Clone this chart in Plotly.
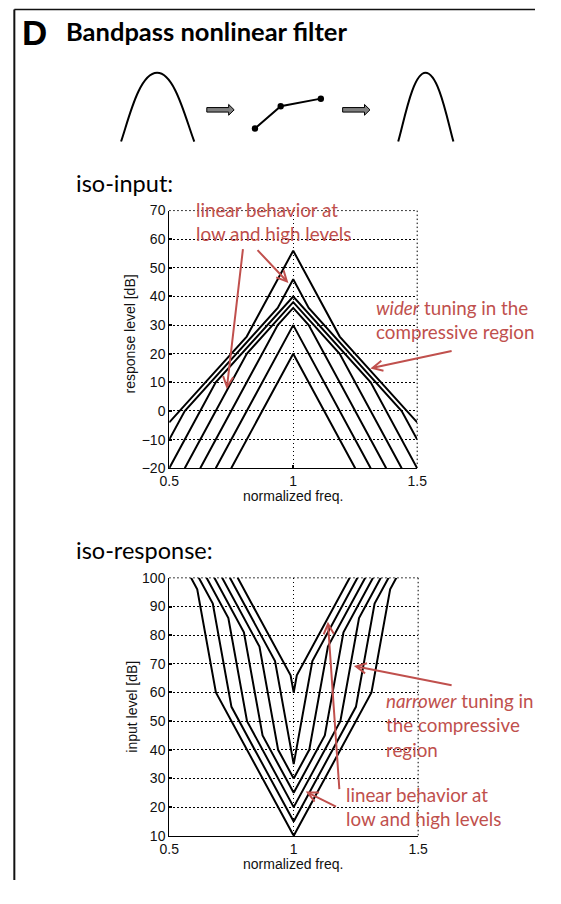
import plotly.graph_objects as go

# The page keeps the browser's default 8px body margin, so the figure is
# sized to fill the window exactly inside it; layout positions below are
# given in window pixels and converted with OFF.
PAGE_W, PAGE_H = 561, 904
OFF = 8
W, H = PAGE_W - 2 * OFF, PAGE_H - 2 * OFF

# ---------------- data ----------------
# iso-input: response level [dB] vs normalized frequency, one curve per input level
iso_input_levels = [20, 30, 40, 50, 60, 70, 80]
iso_input_freq = [
    [0.75, 1.0, 1.25],
    [0.6875, 1.0, 1.3125],
    [0.625, 0.9375, 1.0, 1.0625, 1.375],
    [0.5625, 0.8125, 1.0, 1.1875, 1.4375],
    [0.5, 0.6875, 1.0, 1.3125, 1.5],
    [0.5, 0.5625, 0.9375, 1.0, 1.0625, 1.4375, 1.5],
    [0.5, 0.8125, 1.0, 1.1875, 1.5],
]
iso_input_resp = [
    [-20, 20, -20],
    [-20, 30, -20],
    [-20, 30, 36, 30, -20],
    [-20, 20, 38, 20, -20],
    [-20, 10, 40, 10, -20],
    [-10, 0, 36, 46, 36, 0, -10],
    [-4, 26, 56, 26, -4],
]

# iso-response: input level [dB] vs normalized frequency, one curve per response level
iso_resp_levels = [10, 15, 20, 25, 30, 35, 40]
iso_resp_freq = [
    [0.5875, 0.6125, 0.6875, 1.0, 1.3125, 1.3875, 1.4125],
    [0.61875, 0.675, 0.75, 1.0, 1.25, 1.325, 1.38125],
    [0.65, 0.7375, 0.8125, 1.0, 1.1875, 1.2625, 1.35],
    [0.68125, 0.8, 0.875, 1.0, 1.125, 1.2, 1.31875],
    [0.7125, 0.8625, 0.9375, 1.0, 1.0625, 1.1375, 1.2875],
    [0.74375, 0.925, 1.0, 1.075, 1.25625],
    [0.775, 0.9875, 1.0, 1.0125, 1.225],
]
iso_resp_input = [
    [100, 96, 60, 10, 60, 96, 100],
    [100, 91, 55, 15, 55, 91, 100],
    [100, 86, 50, 20, 50, 86, 100],
    [100, 81, 45, 25, 45, 81, 100],
    [100, 76, 40, 30, 40, 76, 100],
    [100, 71, 35, 71, 100],
    [100, 66, 60, 66, 100],
]

freq_ticks = [0.5, 1, 1.5]
resp_ticks = list(range(-20, 71, 10))
input_ticks = list(range(10, 101, 10))

# ---------------- styling ----------------
RED = "#C0504D"
SANS = "Liberation Sans, Arial, sans-serif"
TICK_FONT = dict(family=SANS, size=14, color="#111")
LABEL_FONT = dict(family=SANS, size=14, color="#111")
CAL = "Lato, 'Open Sans', sans-serif"
DOT = "1.5px,2.5px"


def dom_x(p):
    return (p - OFF) / W


def dom_y(p):
    return 1 - (p - OFF) / H


fig = go.Figure()

for f, r in zip(iso_input_freq, iso_input_resp):
    fig.add_trace(go.Scatter(x=f, y=r, mode="lines", xaxis="x", yaxis="y",
                             line=dict(color="black", width=2), hoverinfo="skip",
                             showlegend=False))

for f, r in zip(iso_resp_freq, iso_resp_input):
    fig.add_trace(go.Scatter(x=f, y=r, mode="lines", xaxis="x2", yaxis="y2",
                             line=dict(color="black", width=2), hoverinfo="skip",
                             showlegend=False))

# empty trace holding the full-page pixel overlay axes
fig.add_trace(go.Scatter(x=[], y=[], xaxis="x3", yaxis="y3", showlegend=False))

axis_common = dict(
    showline=True, linecolor="black", linewidth=1, mirror=False,
    ticks="inside", ticklen=3, tickwidth=1.5, tickcolor="black",
    showgrid=True, gridcolor="black", gridwidth=1, griddash=DOT,
    zeroline=False, tickfont=TICK_FONT, fixedrange=True,
)

top_x = (173.3, 430.7)
top_y = (214.3, 476.7)
bot_x = (173.3, 431.7)
bot_y = (588.3, 851.0)

fig.update_layout(
    width=W, height=H, autosize=False,
    margin=dict(l=0, r=0, t=0, b=0),
    paper_bgcolor="white", plot_bgcolor="rgba(0,0,0,0)",
    xaxis=dict(domain=[dom_x(top_x[0]), dom_x(top_x[1])], range=[0.5, 1.5],
               tickvals=freq_ticks, anchor="y", **axis_common),
    yaxis=dict(domain=[dom_y(top_y[1]), dom_y(top_y[0])], range=[-20, 70],
               tickvals=resp_ticks, anchor="x", **axis_common),
    xaxis2=dict(domain=[dom_x(bot_x[0]), dom_x(bot_x[1])], range=[0.5, 1.5],
                tickvals=freq_ticks, anchor="y2", **axis_common),
    yaxis2=dict(domain=[dom_y(bot_y[1]), dom_y(bot_y[0])], range=[10, 100],
                tickvals=input_ticks, anchor="x2", **axis_common),
    xaxis3=dict(domain=[0, 1], range=[OFF, OFF + W], visible=False, anchor="y3",
                fixedrange=True),
    yaxis3=dict(domain=[0, 1], range=[OFF + H, OFF], visible=False, anchor="x3",
                fixedrange=True),
)

shapes = []
P = dict(xref="x3", yref="y3")

# panel frame (top and left edges)
shapes.append(dict(type="line", x0=12.5, x1=OFF + W, y0=9.5, y1=9.5,
                   line=dict(color="#111", width=1.6), **P))
shapes.append(dict(type="line", x0=12.5, x1=12.5, y0=9.5, y1=OFF + H,
                   line=dict(color="#111", width=2), **P))

# open right / top edges of each axes box as dotted lines
for (x0, x1), (y0, y1) in [(top_x, top_y), (bot_x, bot_y)]:
    shapes.append(dict(type="line", x0=x0, x1=x1, y0=y0, y1=y0,
                       line=dict(color="black", width=1, dash=DOT), **P))
    shapes.append(dict(type="line", x0=x1, x1=x1, y0=y0, y1=y1,
                       line=dict(color="black", width=1, dash=DOT), **P))

# schematic: filter -> compressive nonlinearity -> filter
shapes.append(dict(type="path",
                   path="M123.3,144 C131,122 142,74 160.7,74 C179,74 190,120 199.3,144",
                   line=dict(color="black", width=2), **P))
shapes.append(dict(type="path",
                   path="M411,144 C417,124 426,74 439.3,74 C453,74 462,122 468.3,144",
                   line=dict(color="black", width=2), **P))
for xs in (212.3, 353.3):
    body_end = xs + 22.7
    tip = xs + 28.4
    shapes.append(dict(type="path",
                       path=(f"M{xs},109.4 L{body_end},109.4 L{body_end},106.2 L{tip},111.7 "
                             f"L{body_end},117.2 L{body_end},114 L{xs},114 Z"),
                       fillcolor="#7f7f7f", line=dict(color="black", width=1), **P))
shapes.append(dict(type="path", path="M262.3,130.7 L289,108 L330.7,100.3",
                   line=dict(color="black", width=2), **P))
for cx, cy in [(262.3, 130.7), (289, 108), (330.7, 100.3)]:
    shapes.append(dict(type="circle", x0=cx - 3.3, x1=cx + 3.3, y0=cy - 3.3, y1=cy + 3.3,
                       fillcolor="black", line=dict(color="black", width=0), **P))

fig.update_layout(shapes=shapes)

ann = []


def text(x, y, s, font, xanchor="left", yanchor="middle", angle=0, align="left"):
    ann.append(dict(x=x, y=y, xref="x3", yref="y3", text=s, showarrow=False,
                    xanchor=xanchor, yanchor=yanchor, textangle=angle, align=align,
                    font=font))


def arrow(x_tail, y_tail, x_tip, y_tip):
    ann.append(dict(x=x_tip, y=y_tip, ax=x_tail, ay=y_tail, xref="x3", yref="y3",
                    axref="x3", ayref="y3", text="", showarrow=True,
                    arrowhead=5, arrowsize=1, arrowwidth=2, arrowcolor=RED))


# panel heading
text(18, 33, "<b>D</b>", dict(family=SANS, size=35, color="black"))
text(64, 31, "<b>Bandpass nonlinear filter</b>", dict(family=CAL, size=25.5, color="black"))

text(74, 186, "iso-input:", dict(family=CAL, size=23.5, color="black"))
text(74, 560, "iso-response:", dict(family=CAL, size=23.5, color="black"))

# axis titles
text(133, 340, "response level [dB]", LABEL_FONT, xanchor="center", angle=-90, align="center")
text(302, 505, "normalized freq.", LABEL_FONT, xanchor="center", align="center")
text(134.5, 719.6, "input level [dB]", LABEL_FONT, xanchor="center", angle=-90, align="center")
text(302, 880, "normalized freq.", LABEL_FONT, xanchor="center", align="center")

RFONT = dict(family=CAL, size=18.8, color=RED)
text(199, 225.5, "linear behavior at<br>low and high levels", RFONT)
text(386, 325, "<i>wider</i> tuning in the<br>compressive region", RFONT)
text(396.5, 738, "<i>narrower</i> tuning in<br>the compressive<br>region", RFONT)
text(355, 821, "linear behavior at<br>low and high levels", RFONT)

arrow(250, 252, 233, 396)
arrow(263.5, 253, 297, 288)
arrow(468, 357, 382, 375)
arrow(468, 698, 365, 678)
arrow(350, 805, 338, 633)
arrow(348, 822, 315, 806)

fig.update_layout(annotations=ann)

fig.write_html("out.html")
